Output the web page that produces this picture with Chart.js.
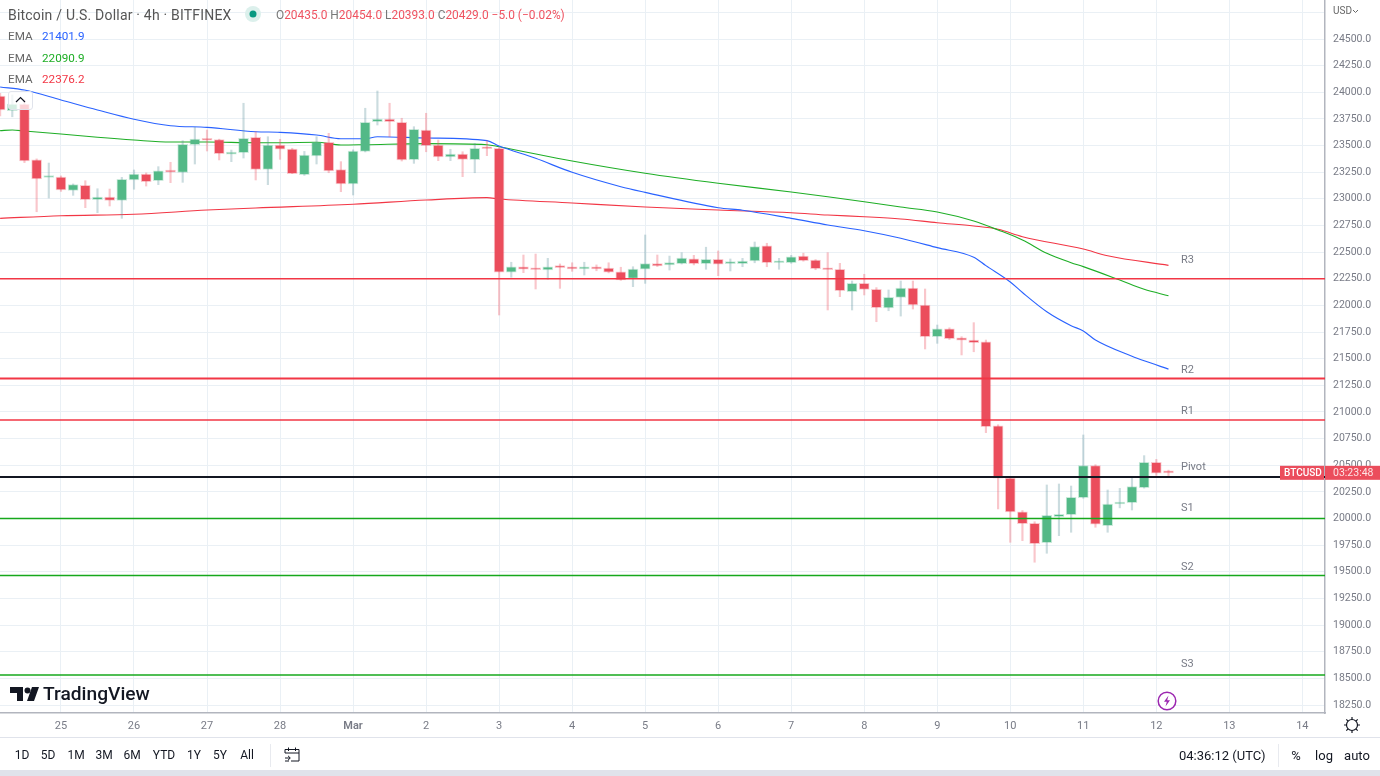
<!DOCTYPE html>
<html>
<head>
<meta charset="utf-8">
<title>BTCUSD 4h</title>
<script src="https://cdn.jsdelivr.net/npm/chart.js@4"></script>
<style>
  html, body { margin: 0; padding: 0; background: #fff; overflow: hidden; }
  body { width: 1380px; height: 776px; position: relative; font-family: Roboto, "Open Sans", Arial, sans-serif; color: #555; }
  canvas { position: absolute; left: 0; top: 0; }
  .t { position: absolute; white-space: nowrap; line-height: 1; }
  .leg { font-size: 11.7px; }
  .tb { font-size: 12px; color: #131722; top: 749px; transform: translateX(-50%); }
  .sep { position: absolute; width: 1px; background: #e8eaef; top: 744px; height: 23px; }
  #band { position: absolute; left: 0; top: 770px; width: 1380px; height: 6px; background: #e0e3eb; }
  #rule { position: absolute; left: 0; top: 737px; width: 1380px; height: 1px; background: #e0e3eb; }
  #fold { position: absolute; left: 8px; top: 91px; width: 25px; height: 19px; border: 1px solid #e0e3eb; border-radius: 3px; background: rgba(255,255,255,.75); box-sizing: border-box; }
  svg { position: absolute; }
</style>
</head>
<body>
<canvas id="c" width="1380" height="738"></canvas>

<div class="t" style="left:8px;top:8px;font-size:14px;letter-spacing:.2px;color:#555">Bitcoin / U.S. Dollar · 4h · BITFINEX</div>
<svg style="left:244px;top:5px" width="18" height="18"><circle cx="9" cy="9" r="8" fill="#dcf0ec"/><circle cx="9" cy="9" r="3.5" fill="#089981"/></svg>
<div class="t leg" style="left:276px;top:10px;font-size:11.9px;color:#777">O<span style="color:#ef5361">20435.0</span> H<span style="color:#ef5361">20454.0</span> L<span style="color:#ef5361">20393.0</span> C<span style="color:#ef5361">20429.0</span> <span style="color:#ef5361">−5.0 (−0.02%)</span></div>
<div class="t leg" style="left:8px;top:31px;color:#666">EMA</div><div class="t leg" style="left:42px;top:31px;color:#2962ff">21401.9</div>
<div class="t leg" style="left:8px;top:53px;color:#666">EMA</div><div class="t leg" style="left:42px;top:53px;color:#1eae26">22090.9</div>
<div class="t leg" style="left:8px;top:74px;color:#666">EMA</div><div class="t leg" style="left:42px;top:74px;color:#f23645">22376.2</div>
<div id="fold"></div>
<svg style="left:14px;top:95px" width="13" height="9"><path d="M2 7 L6.5 2.5 L11 7" fill="none" stroke="#131722" stroke-width="1.2"/></svg>

<svg style="left:10px;top:686px" width="30" height="16"><path d="M0 1H13V15H7V7H0Z M17 15L22 1H29L24 15Z" fill="#131722"/><circle cx="17.5" cy="4.5" r="3" fill="#131722"/></svg>
<div class="t" style="left:43px;top:684px;font-size:19.2px;font-weight:500;color:#131722">TradingView</div>

<svg style="left:1157px;top:691px" width="20" height="20"><circle cx="10" cy="10" r="8.8" fill="#fff" stroke="#9c27b0" stroke-width="1.5"/><path d="M11.5 4.5L7 10.8H9.8L8.5 15.5L13 9.2H10.2Z" fill="#9c27b0"/></svg>
<svg style="left:1343px;top:716px" width="18" height="18"><circle cx="9" cy="9" r="5.5" fill="none" stroke="#131722" stroke-width="1.2"/><path d="M9 1V3.5M9 14.5V17M1 9H3.5M14.5 9H17M3.3 3.3L5.1 5.1M12.9 12.9L14.7 14.7M3.3 14.7L5.1 12.9M12.9 5.1L14.7 3.3" stroke="#131722" stroke-width="1.2"/></svg>

<div class="t" style="left:1333px;top:6px;font-size:10px;color:#666">USD</div>
<svg style="left:1352px;top:9px" width="7" height="5"><path d="M1 1L3.5 3.5L6 1" fill="none" stroke="#666"/></svg>

<div id="rule"></div>
<div class="t tb" style="left:22px">1D</div>
<div class="t tb" style="left:48px">5D</div>
<div class="t tb" style="left:76px">1M</div>
<div class="t tb" style="left:104px">3M</div>
<div class="t tb" style="left:132px">6M</div>
<div class="t tb" style="left:164px">YTD</div>
<div class="t tb" style="left:194px">1Y</div>
<div class="t tb" style="left:220px">5Y</div>
<div class="t tb" style="left:247px">All</div>
<div class="sep" style="left:270px"></div>
<svg style="left:284px;top:746px" width="16" height="17"><path d="M1 7V3.5H15V15H7M1 7H15M4.5 1.5V5M11.5 1.5V5M1 12H6M4 9.8L6.3 12L4 14.2M1 15H5" fill="none" stroke="#131722" stroke-width="1"/></svg>
<div class="t" style="left:1179px;top:749px;font-size:13px;color:#131722">04:36:12 (UTC)</div>
<div class="sep" style="left:1278px"></div>
<div class="t tb" style="left:1296px;font-size:13px">%</div>
<div class="t tb" style="left:1324px;font-size:13px">log</div>
<div class="t tb" style="left:1357px;font-size:13px">auto</div>
<div id="band"></div>

<script>
// candles are 4h bars, bar 0 = 25 Feb 00:00, so a day is 6 bars
const firstBar = -5;
const opens = [23965,23827,23890,23365,23200,23205,23080,23127,22992,23017,22986,23177,23233,23170,23262,23249,23508,23565,23555,23420,23433,23577,23277,23505,23468,23226,23402,23531,23274,23139,23446,23724,23749,23718,23368,23646,23505,23393,23421,23367,23480,23474,22311,22363,22345,22332,22364,22363,22342,22363,22350,22316,22254,22339,22392,22379,22392,22438,22392,22433,22392,22392,22417,22558,22400,22401,22464,22426,22345,22339,22129,22207,22151,21976,22076,22163,22004,21706,21779,21695,21675,21657,20869,20380,20064,19955,19773,20017,20036,20196,20496,19933,20136,20149,20290,20528,20435];
const highs = [23990,23975,23930,23375,23336,23215,23140,23170,23095,23092,23202,23271,23243,23302,23343,23546,23671,23646,23560,23458,23897,23630,23583,23559,23475,23445,23583,23615,23349,23460,23850,24012,23897,23756,23677,23803,23552,23465,23442,23521,23546,23480,22405,22473,22482,22442,22389,22400,22405,22380,22400,22358,22363,22661,22473,22463,22495,22470,22546,22511,22436,22442,22595,22583,22442,22470,22490,22430,22495,22395,22229,22292,22167,22145,22229,22229,22154,21816,21790,21706,21838,21675,20880,20390,20075,19970,20315,20324,20305,20784,20505,20268,20283,20387,20590,20555,20454];
const lows = [23777,23770,23340,22879,23008,23070,23033,22917,22870,22933,22817,23090,23120,23133,23152,23155,23327,23449,23365,23349,23383,23177,23133,23371,23236,23220,23327,23245,23067,23036,23440,23693,23583,23355,23333,23442,23358,23358,23208,23245,23405,21910,22264,22307,22154,22245,22160,22320,22285,22325,22305,22235,22176,22207,22365,22332,22388,22380,22339,22279,22323,22363,22400,22363,22339,22395,22415,22335,21957,22082,21957,22098,21847,21950,21900,21966,21591,21644,21680,21535,21565,20806,20090,19777,19792,19590,19674,19839,19871,20190,19918,19871,20100,20080,20285,20405,20393];
const closes = [23834,23890,23355,23186,23205,23083,23133,22992,23017,22986,23183,23233,23161,23262,23250,23512,23562,23550,23424,23432,23568,23277,23505,23465,23236,23411,23533,23261,23139,23449,23718,23749,23724,23365,23653,23499,23393,23421,23371,23474,23470,22311,22363,22339,22335,22363,22354,22342,22363,22342,22311,22238,22342,22392,22370,22401,22445,22392,22433,22386,22401,22417,22551,22401,22410,22457,22420,22345,22335,22138,22207,22151,21979,22076,22163,22004,21706,21779,21688,21673,21650,20862,20378,20061,19952,19764,20030,20040,20200,20496,19946,20136,20155,20299,20528,20425,20429];

// EMAs read at the bars where the picture was clearest
const emaBlueBars = [-5,-3,0,3,6,9,12,16,18,21,23,25,26,30,35,36,39,42,46,48,54,56,60,63,66,69,72,75,76,78,79,81,83,84,85,88,89,91];
const emaBlue = [24050,24021,23928,23834,23747,23686,23671,23630,23624,23599,23564,23564,23583,23571,23546,23496,23380,23249,23114,23061,22917,22893,22817,22755,22701,22630,22542,22452,22373,22220,22121,21941,21810,21760,21675,21523,21480,21402];
const emaGreenBars = [-5,-4,-3,0,3,6,9,12,16,18,21,23,25,30,35,36,42,48,54,60,63,66,69,72,75,77,79,81,83,84,87,89,91];
const emaGreen = [23640,23646,23637,23609,23578,23552,23533,23533,23527,23527,23531,23505,23508,23518,23508,23489,23355,23240,23146,23064,23020,22973,22923,22877,22792,22708,22614,22489,22401,22364,22238,22151,22091];
const emaRedBars = [-5,0,6,12,16,24,30,35,36,42,48,54,60,63,66,69,72,75,77,79,84,86,91];
const emaRed = [22817,22842,22855,22895,22914,22949,22989,23011,22999,22961,22923,22895,22870,22848,22832,22811,22776,22745,22714,22645,22529,22466,22376];

const pivotNames = ["R3","R2","R1","Pivot","S1","S2","S3"];
const pivotValues = [22250,21314,20925,20390,20000,19466,18532];
const pivotLabelValues = [22426,21394,21009,20484,20099,19545,18635];
const pivotColors = ["#f23645","#f23645","#f23645","#131722","#16a81c","#16a81c","#16a81c"];
const pivotWidths = [1.5,2,1.5,2,1.5,1.5,1.5];

const dayLabels = ["25","26","27","28","Mar","2","3","4","5","6","7","8","9","10","11","12","13","14"];
const priceTicks = [18250,18500,18750,19000,19250,19500,19750,20000,20250,20500,20750,21000,21250,21500,21750,22000,22250,22500,22750,23000,23250,23500,23750,24000,24250,24500,24750];

const UP = "#53b987", DOWN = "#eb4d5c", GRID = "#eaf0f5", AXIS = "#b2b5be", TXT = "#787b86";
const X_MIN = -5.01, X_MAX = 103.86, Y_MIN = 18175, Y_MAX = 24866;
const FONT = "Roboto, 'Open Sans', Arial, sans-serif";

const isUp = i => closes[i] >= opens[i];
const bars = opens.map((_, i) => firstBar + i);
const pairs = (xs, ys) => xs.map((x, i) => ({ x, y: ys[i] }));
const ema = (data, color) => ({ type: "line", data, borderColor: color, borderWidth: 1.1, pointRadius: 0, cubicInterpolationMode: "monotone", order: 6 });

const pivotPlugin = {
  id: "pivotTags",
  afterDraw(chart) {
    const { ctx, scales: { y }, chartArea } = chart;
    ctx.save();
    ctx.textBaseline = "middle";
    ctx.font = "11px " + FONT;
    ctx.fillStyle = TXT;
    ctx.textAlign = "left";
    pivotNames.forEach((n, i) => ctx.fillText(n, 1181, y.getPixelForValue(pivotLabelValues[i])));
    // last price tag
    const py = y.getPixelForValue(closes[closes.length - 1]);
    ctx.fillStyle = DOWN;
    ctx.fillRect(1280, py - 7, 44, 14);
    ctx.fillRect(chartArea.right, py - 7, 55, 14);
    ctx.fillStyle = "#fff";
    ctx.font = "500 10px " + FONT;
    ctx.fillText("BTCUSD", 1284, py + 0.5);
    ctx.fillStyle = "#fde3e5";
    ctx.font = "10.5px " + FONT;
    ctx.fillText("03:23:48", 1333, py + 0.5);
    ctx.restore();
  },
};

new Chart(document.getElementById("c"), {
  type: "bar",
  plugins: [pivotPlugin],
  data: {
    datasets: [
      ema(pairs(emaBlueBars, emaBlue), "#2962ff"),
      ema(pairs(emaGreenBars, emaGreen), "#1eae26"),
      ema(pairs(emaRedBars, emaRed), "#f23645"),
      {
        data: bars.map((x, i) => ({ x, y: [lows[i], highs[i]] })),
        backgroundColor: bars.map((_, i) => isUp(i) ? "rgba(83,140,150,.3)" : "rgba(235,77,92,.32)"),
        barThickness: 1.5, grouped: false, order: 5,
      },
      {
        data: bars.map((x, i) => ({ x, y: [opens[i], closes[i]] })),
        backgroundColor: bars.map((_, i) => isUp(i) ? UP : DOWN),
        borderColor: bars.map((_, i) => isUp(i) ? "rgba(83,185,135,.3)" : "rgba(235,77,92,.3)"),
        borderWidth: 1, borderSkipped: false,
        barThickness: 10, minBarLength: 2, grouped: false, order: 4,
      },
      ...pivotValues.map((v, i) => ({
        type: "line",
        data: [{ x: X_MIN, y: v }, { x: X_MAX, y: v }],
        borderColor: pivotColors[i], borderWidth: pivotWidths[i], pointRadius: 0, order: 2,
      })),
    ],
  },
  options: {
    responsive: false, animation: false, devicePixelRatio: 1,
    layout: { padding: 0 },
    plugins: { legend: { display: false }, tooltip: { enabled: false } },
    scales: {
      x: {
        type: "linear", position: "bottom", offset: false, min: X_MIN, max: X_MAX,
        afterFit: s => { s.height = 25; s.paddingLeft = 0; s.paddingRight = 0; },
        grid: { color: GRID, offset: false, drawTicks: false },
        border: { color: AXIS, width: 1.5 },
        ticks: {
          stepSize: 6, includeBounds: false, autoSkip: false, maxRotation: 0, padding: 7, color: TXT,
          font: ctx => ({ family: FONT, size: 11, weight: ctx.tick && ctx.tick.value === 24 ? "600" : "400" }),
          callback: v => dayLabels[v / 6] ?? "",
        },
      },
      y: {
        position: "right", min: Y_MIN, max: Y_MAX,
        afterBuildTicks: s => { s.ticks = priceTicks.map(value => ({ value })); },
        afterFit: s => { s.width = 55; s.paddingTop = 0; s.paddingBottom = 0; },
        grid: { color: GRID, drawTicks: false },
        border: { color: AXIS, width: 1.5 },
        ticks: {
          autoSkip: false, padding: 8, color: TXT, font: { family: FONT, size: 10.5 },
          callback: v => v === 24750 ? "" : v.toFixed(1),
        },
      },
    },
  },
});
</script>
</body>
</html>
